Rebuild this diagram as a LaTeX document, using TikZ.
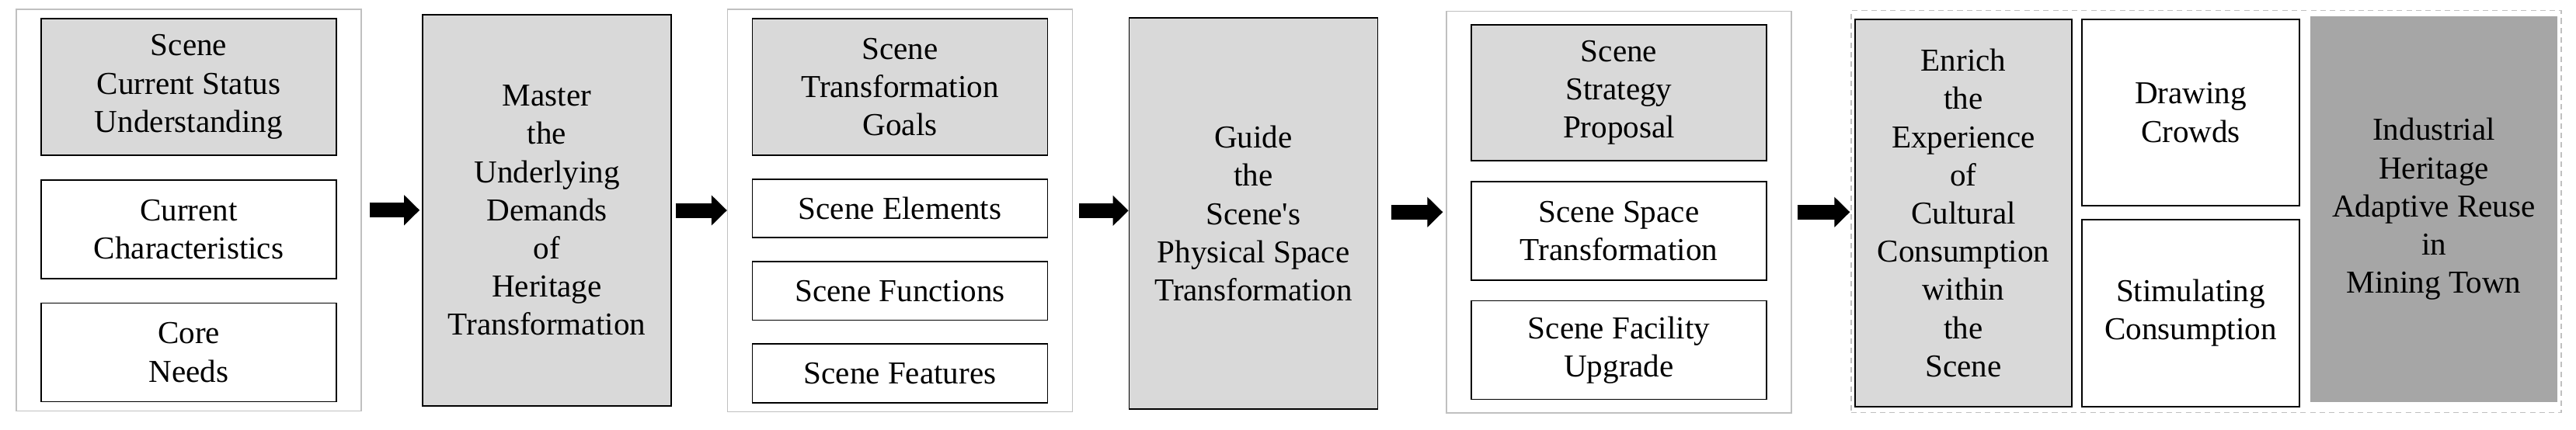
\documentclass[tikz,border=0pt]{standalone}
\usepackage{fontspec}
\setmainfont{Liberation Serif}[Ligatures=TeXOff]
\usetikzlibrary{positioning,fit,arrows.meta}

\definecolor{lightfill}{HTML}{D9D9D9}
\definecolor{darkfill}{HTML}{A6A6A6}
\definecolor{frameline}{HTML}{C0C0C0}

\begin{document}
\begin{tikzpicture}[auto,
    box/.style={draw, line width=0.5pt, align=center, inner sep=0pt,
      font=\fontsize{11.7}{14}\selectfont, minimum width=3.8cm},
    headbox/.style={box, fill=lightfill},
    stagebox/.style={box, fill=lightfill, minimum width=3.2cm, minimum height=5.04cm},
    group/.style={draw=frameline, line width=0.45pt, inner xsep=0.31cm, inner ysep=0.11cm},
    bigarrow/.style={line width=0.19cm, -{Triangle[length=0.2cm,width=0.38cm]}}
  ]
  \useasboundingbox (0,0) rectangle (33.16,5.53);

  % Stage 1: current status
  \node (status) [headbox, minimum height=1.76cm] at (2.43,4.41) {Scene\\Current Status\\Understanding};
  \node (charact) [box, minimum height=1.27cm, below=0.30cm of status] {Current\\Characteristics};
  \node (needs) [box, minimum height=1.27cm, below=0.30cm of charact] {Core\\Needs};
  \node (stageA) [group, fit=(status)(needs)] {};

  \node (master) [stagebox] at (7.04,2.82) {Master\\the\\Underlying\\Demands\\of\\Heritage\\Transformation};

  % Stage 2: goals
  \node (goals) [headbox, minimum height=1.76cm] at (11.585,4.41) {Scene\\Transformation\\Goals};
  \node (elements) [box, minimum height=0.755cm, below=0.29cm of goals] {Scene Elements};
  \node (functions) [box, minimum height=0.755cm, below=0.29cm of elements] {Scene Functions};
  \node (features) [box, minimum height=0.755cm, below=0.29cm of functions] {Scene Features};
  \node (stageB) [group, fit=(goals)(features)] {};

  \node (guide) [stagebox] at (16.135,2.78) {Guide\\the\\Scene's\\Physical Space\\Transformation};

  % Stage 3: strategy
  \node (strategy) [headbox, minimum height=1.75cm] at (20.84,4.335) {Scene\\Strategy\\Proposal};
  \node (spacetr) [box, minimum height=1.27cm, below=0.25cm of strategy] {Scene Space\\Transformation};
  \node (facility) [box, minimum height=1.27cm, below=0.25cm of spacetr] {Scene Facility\\Upgrade};
  \node (stageC) [group, inner ysep=0.165cm, fit=(strategy)(facility)] {};

  % Stage 4: outcome
  \node (enrich) [stagebox, minimum width=2.79cm, minimum height=4.99cm] at (25.275,2.785)
    {Enrich\\the\\Experience\\of\\Cultural\\Consumption\\within\\the\\Scene};
  \node (crowds) [box, minimum width=2.8cm, minimum height=2.4cm] at (28.20,4.08) {Drawing\\Crowds};
  \node (consume) [box, minimum width=2.8cm, minimum height=2.41cm, below=0.16cm of crowds] {Stimulating\\Consumption};
  \node (reuse) [box, draw=none, fill=darkfill, minimum width=3.18cm, minimum height=4.97cm] at (31.33,2.835)
    {Industrial\\Heritage\\Adaptive Reuse\\in\\Mining Town};
  \node (stageD) [group, dash pattern=on 2pt off 1.5pt, inner xsep=0.04cm, inner ysep=0.065cm,
    fit=(enrich)(crowds)(consume)(reuse)] {};

  % flow arrows
  \draw [bigarrow, shorten <=0.10cm, shorten >=0.03cm] (stageA.east) -- (stageA.east -| master.west);
  \draw [bigarrow, shorten <=0.05cm] (master.east) -- (master.east -| stageB.west);
  \draw [bigarrow, shorten <=0.08cm] (stageB.east) -- (stageB.east -| guide.west);
  \draw [bigarrow, shorten <=0.17cm, shorten >=0.04cm] (stageC.west -| guide.east) -- (stageC.west);
  \draw [bigarrow, shorten <=0.07cm, shorten >=0.01cm] (stageC.east) -- (stageC.east -| stageD.west);

\end{tikzpicture}
\end{document}
